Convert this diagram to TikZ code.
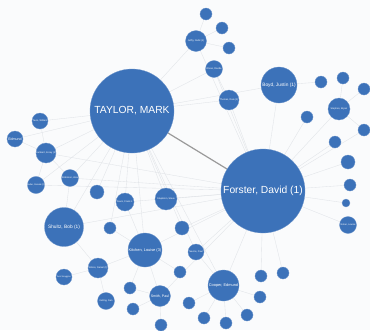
\documentclass[tikz,border=0pt]{standalone}
\usepackage{fontspec}
\setmainfont{Liberation Sans}
\usetikzlibrary{backgrounds}
\definecolor{nb}{HTML}{3C72B9}
\definecolor{bgc}{HTML}{FAFBFC}
\definecolor{edg}{HTML}{E0E3E7}
\definecolor{main}{HTML}{9A9A9A}
\newcommand{\fs}[1]{\fontsize{#1}{#1}\selectfont}
\tikzset{
  nd/.style={circle, fill=nb, draw=nb!75!white, line width=0.3pt, inner sep=0pt, text=white, minimum size=#1, align=center},
  ed/.style={draw=edg, line width=0.35pt},
  strong/.style={draw=main, line width=1.2pt}
}
\begin{document}
\begin{tikzpicture}[x=1pt,y=-1pt]
\useasboundingbox (0,0) rectangle (370,330);
% big nodes
\node[nd=84pt, font=\fs{10.3}] (t) at (132,111) {TAYLOR, MARK};
\node[nd=84pt, font=\fs{10.3}] (f) at (263,191) {Forster, David (1)};
\node[nd=36pt, font=\fs{4.8}] (boyd) at (279,85) {Boyd, Justin (1)};
\node[nd=39pt, font=\fs{4.8}] (shultz) at (64,227) {Shultz, Bob (1)};
\node[nd=34pt, font=\fs{3.9}] (kitchen) at (145,250) {Kitchen, Louise (3)};
\node[nd=31pt, font=\fs{3.9}] (cooper) at (223.5,285.5) {Cooper, Edmund};
\node[nd=21pt, font=\fs{3.6}] (smith) at (160,296) {Smith, Paul};
\node[nd=20pt, font=\fs{2.4}] (wilson) at (98,268) {Wilson, Daniel (1)};
\node[nd=16pt, font=\fs{2.2}] (ann) at (64,277) {Ann Scoggins};
\node[nd=17pt, font=\fs{2.4}] (kelling) at (106,301) {Kelling, Dan};
\node[nd=21pt, font=\fs{2.4}] (jeffry) at (196,41) {Jeffry, Nabil (1)};
\node[nd=17pt, font=\fs{2.4}] (olivas) at (214,69) {Olivas, Randa};
\node[nd=20pt, font=\fs{2.4}] (thomas) at (229,100) {Thomas, Dale (1)};
\node[nd=22pt, font=\fs{2.4}] (stephen) at (339,109) {Stephen, Bryan};
\node[nd=17pt, font=\fs{2.4}] (nolan) at (348,225) {Nolan, Louise};
\node[nd=16pt, font=\fs{2.4}] (tavis) at (40,121) {Tavis, William};
\node[nd=16pt, font=\fs{3.6}] (edmund) at (15,139) {Edmund};
\node[nd=20pt, font=\fs{2.4}] (lambert) at (46,153) {Lambert, Korey (1)};
\node[nd=17pt, font=\fs{2.4}] (robinson) at (70,178) {Robinson, Alex};
\node[nd=16pt, font=\fs{2.2}] (butler) at (36,185) {Butler, Donald (2)};
\node[nd=18pt, font=\fs{2.4}] (davis) at (125,202) {Davis, Frank J.};
\node[nd=22pt, font=\fs{2.4}] (stapleton) at (166,199) {Stapleton, Steve};
\node[nd=16pt, font=\fs{2.4}] (nevins) at (196,252) {Nevins, Paul};
% small unlabeled nodes
\node[nd=12pt] (s1) at (206,14) {};
\node[nd=12pt] (s2) at (222,28) {};
\node[nd=12pt] (s3) at (229,48) {};
\node[nd=12pt] (s4) at (321,82) {};
\node[nd=12pt] (s5) at (343,78) {};
\node[nd=12pt] (s6) at (364,89) {};
\node[nd=12pt] (s7) at (307,117) {};
\node[nd=12pt] (s8) at (364,130) {};
\node[nd=12pt] (s9) at (335,142) {};
\node[nd=14pt] (s10) at (348,162) {};
\node[nd=12pt] (s11) at (350,185) {};
\node[nd=8pt] (s12) at (346,203) {};
\node[nd=14pt] (s13) at (97,192) {};
\node[nd=12pt] (s14) at (110,228) {};
\node[nd=14pt] (s15) at (182,228) {};
\node[nd=12pt] (s16) at (180,272) {};
\node[nd=12pt] (s17) at (130,288) {};
\node[nd=12pt] (s18) at (133,309) {};
\node[nd=12pt] (s19) at (161,325) {};
\node[nd=12pt] (s20) at (189,303) {};
\node[nd=12pt] (s21) at (204,318) {};
\node[nd=12pt] (s22) at (226,323) {};
\node[nd=12pt] (s23) at (247,315) {};
\node[nd=12pt] (s24) at (260,297) {};
\node[nd=12pt] (s25) at (261,276) {};
\node[nd=12pt] (s26) at (283,273) {};
\begin{pgfonlayer}{background}
\fill[bgc] (0,0) rectangle (370,330);
% edges from Taylor
\foreach \n in {jeffry,olivas,thomas,boyd,tavis,lambert,robinson,butler,davis,stapleton,shultz,kitchen,s13,s14,s15,edmund,nevins,cooper}
  \draw[ed] (t) -- (\n);
% edges from Forster
\foreach \n in {boyd,thomas,olivas,jeffry,stephen,s7,s8,s9,s10,s11,s12,nolan,cooper,s25,s26,nevins,stapleton,kitchen,shultz,lambert,robinson,davis,s15,smith,butler}
  \draw[ed] (f) -- (\n);
% other edges
\foreach \a/\b in {jeffry/s1,jeffry/s2,jeffry/s3,olivas/thomas,boyd/s4,stephen/s5,stephen/s6,stephen/s8,
  cooper/s20,cooper/s21,cooper/s22,cooper/s23,cooper/s24,cooper/nevins,
  kitchen/wilson,kitchen/smith,kitchen/s16,kitchen/s14,kitchen/davis,kitchen/s17,
  smith/s17,smith/s18,smith/s19,wilson/ann,wilson/kelling,wilson/shultz,
  lambert/tavis,lambert/edmund,lambert/robinson,lambert/butler,shultz/robinson}
  \draw[ed] (\a) -- (\b);
\draw[strong] (t) -- (f);
\end{pgfonlayer}
\end{tikzpicture}
\end{document}
